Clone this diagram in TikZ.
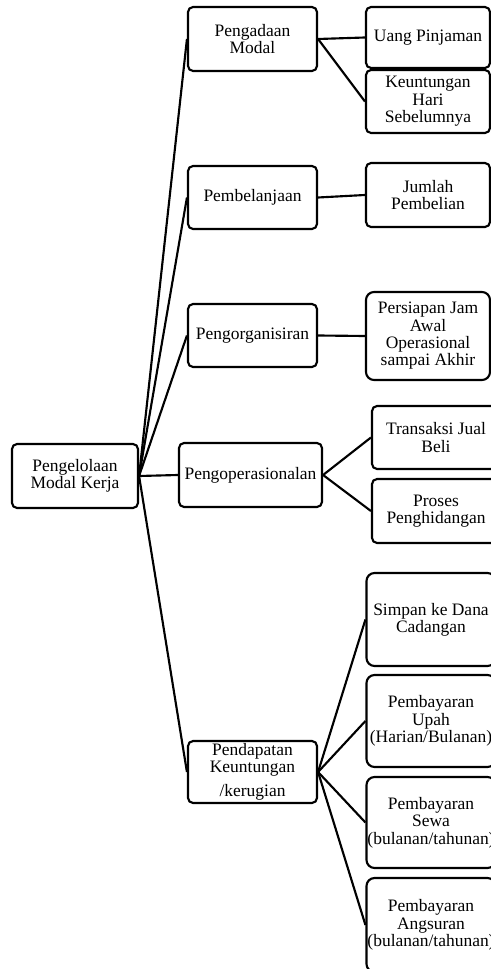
\documentclass[tikz,border=0pt]{standalone}
\usepackage{fontspec}
\setmainfont{Liberation Serif}
\usetikzlibrary{positioning}
\newcommand{\pxu}{0.75pt}

\tikzset{
  kotak/.style={draw, line width=1.6pt, rounded corners=3.8pt, align=center,
    inner sep=0pt, font=\fontsize{13.1}{13}\selectfont},
  kotakbesar/.style={kotak, rounded corners=6pt},
  garis/.style={line width=1.6pt}
}

\begin{document}
\begin{tikzpicture}[x=0.75pt, y=-0.75pt]

  % Batas gambar
  \useasboundingbox (0,0) rectangle (491,969);
  \clip (0,0) rectangle (491,969);

  % Akar
  \node[kotak, minimum width=126*\pxu, minimum height=64*\pxu] (kelola) at (75,476) {Pengelolaan\\Modal Kerja};

  % Tingkat pertama
  \node[kotak, minimum width=129*\pxu, minimum height=64*\pxu] (adaan) at (252.5,39) {Pengadaan\\Modal};
  \node[kotak, minimum width=129*\pxu, minimum height=63*\pxu] (belanja) at (252.5,197.5) {Pembelanjaan};
  \node[kotak, minimum width=129*\pxu, minimum height=63*\pxu] (organ) at (252.5,335.5) {Pengorganisiran};
  \node[kotak, minimum width=143*\pxu, minimum height=64*\pxu] (operasi) at (250.5,475) {Pengoperasionalan};
  \node[kotak, minimum width=129*\pxu, minimum height=62*\pxu] (dapat) at (252.5,772) {Pendapatan\\Keuntungan\\[5pt]/kerugian};

  % Tingkat kedua
  \node[kotak, minimum width=124*\pxu, minimum height=61*\pxu] (uang) at (428,37.5) {Uang Pinjaman};
  \node[kotak, minimum width=124*\pxu, minimum height=63*\pxu] (untung) at (428,101.5) {Keuntungan\\Hari\\Sebelumnya};
  \node[kotak, minimum width=124*\pxu, minimum height=64*\pxu] (jumlah) at (428,195) {Jumlah\\Pembelian};
  \node[kotakbesar, minimum width=124*\pxu, minimum height=88*\pxu] (siap) at (428,336) {Persiapan Jam\\Awal\\Operasional\\sampai Akhir};
  \node[kotak, minimum width=128*\pxu, minimum height=63*\pxu] (jual) at (436,437.5) {Transaksi Jual\\Beli};
  \node[kotak, minimum width=128*\pxu, minimum height=64*\pxu] (hidang) at (436,511) {Proses\\Penghidangan};
  \node[kotakbesar, minimum width=129*\pxu, minimum height=93*\pxu] (simpan) at (431,619.5) {Simpan ke Dana\\Cadangan};
  \node[kotakbesar, minimum width=129*\pxu, minimum height=92*\pxu] (upah) at (431,721) {Pembayaran\\Upah\\(Harian/Bulanan)};
  \node[kotakbesar, minimum width=129*\pxu, minimum height=91*\pxu] (sewa) at (431,822.5) {Pembayaran\\Sewa\\(bulanan/tahunan)};
  \node[kotakbesar, minimum width=129*\pxu, minimum height=94*\pxu] (angsur) at (431,925) {Pembayaran\\Angsuran\\(bulanan/tahunan)};

  % Garis penghubung
  \foreach \n in {adaan, belanja, organ, operasi, dapat}
    \draw[garis] (kelola.east) -- (\n.west);
  \draw[garis] (adaan.east) -- (uang.west);
  \draw[garis] (adaan.east) -- (untung.west);
  \draw[garis] (belanja.east) -- (jumlah.west);
  \draw[garis] (organ.east) -- (siap.west);
  \draw[garis] (operasi.east) -- (jual.west);
  \draw[garis] (operasi.east) -- (hidang.west);
  \foreach \n in {simpan, upah, sewa, angsur}
    \draw[garis] (dapat.east) -- (\n.west);

\end{tikzpicture}
\end{document}
